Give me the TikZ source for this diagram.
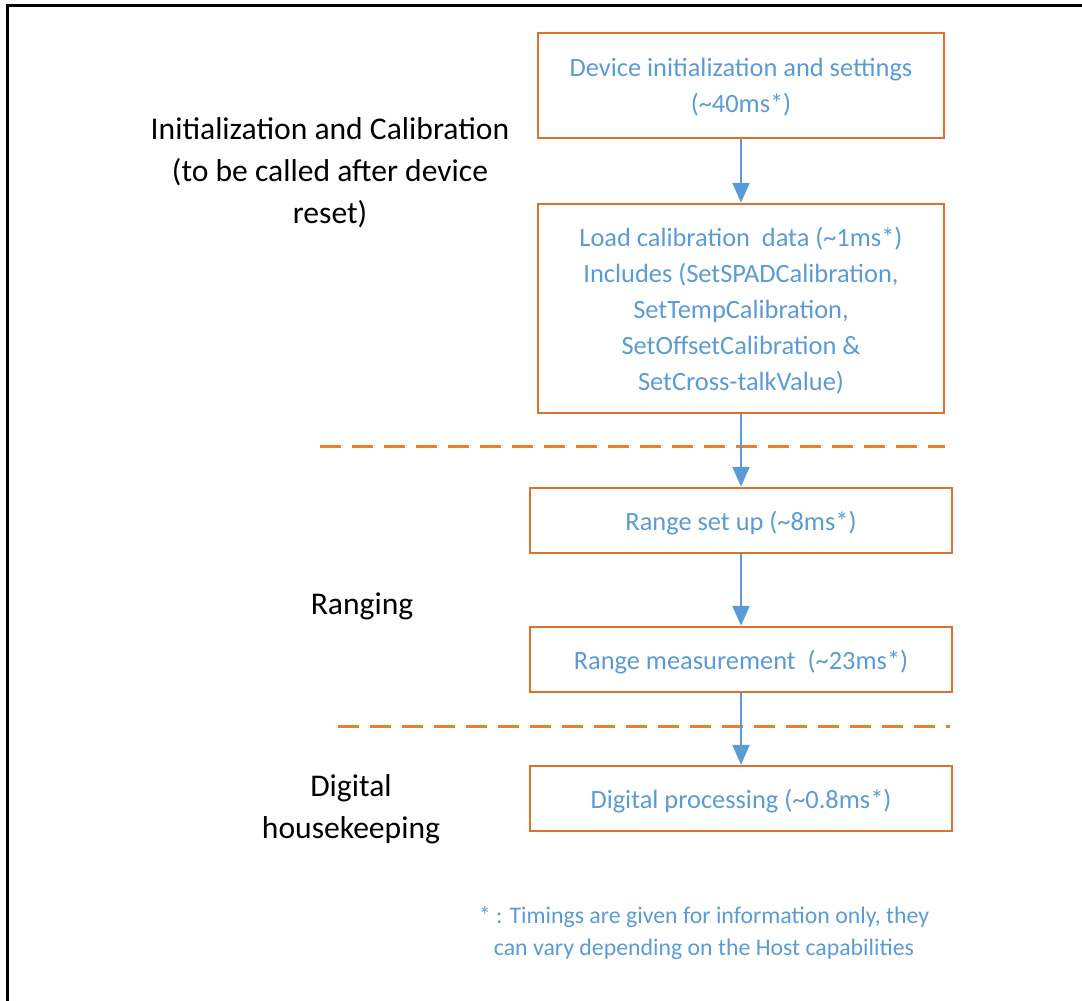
\documentclass[tikz,border=0pt]{standalone}
\usepackage{fontspec}
\setmainfont{Carlito}
\usetikzlibrary{arrows.meta}
\definecolor{boxorange}{RGB}{217,115,45}
\definecolor{dashorange}{RGB}{237,125,49}
\definecolor{txtblue}{RGB}{91,155,213}
\begin{document}
\begin{tikzpicture}[x=1pt, y=-1pt,
		stepbox/.style={draw=boxorange, line width=2.5pt, text=txtblue, align=center,
			inner sep=0pt, text depth=-3pt, font=\fontsize{26.4}{36}\selectfont},
		sidelabel/.style={align=center, font=\fontsize{31.6}{42}\selectfont},
		flow/.style={draw=txtblue, line width=2.5pt, -{Triangle[width=17pt,length=20pt]}}]
		
		% Fix the size of the picture
		\useasboundingbox (0,0) rectangle (1082,1001);
		
		% Draw the outer frame
		\draw[line width=3pt] (1090,5) -- (7,5) -- (7,1010);
		
		% Draw the steps
		\node[stepbox, minimum width=406pt, minimum height=105pt] (init) at (741,85.5)
		{Device initialization and settings\\(\textasciitilde 40ms*)};
		\node[stepbox, minimum width=406pt, minimum height=209pt] (calib) at (741,308.5)
		{Load calibration\ \ data (\textasciitilde 1ms*)\\Includes (SetSPADCalibration,\\SetTempCalibration,\\SetOffsetCalibration \&\\SetCross-talkValue)};
		\node[stepbox, minimum width=422pt, minimum height=65pt] (setup) at (741,520.5)
		{Range set up (\textasciitilde 8ms*)};
		\node[stepbox, minimum width=422pt, minimum height=65pt] (meas) at (741,659.5)
		{Range measurement\ \ (\textasciitilde 23ms*)};
		\node[stepbox, minimum width=422pt, minimum height=65pt] (proc) at (741,798.5)
		{Digital processing (\textasciitilde 0.8ms*)};
		
		% Draw the dashed separators
		\foreach \ya/\xa/\xb in {446/320/945, 726/338/950}
		\draw[dashorange, line width=3pt, dash pattern=on 21pt off 11pt] (\xa,\ya) -- (\xb,\ya);
		
		% Draw the arrows
		\draw[flow] (init) -- (calib);
		\draw[flow] (calib) -- (setup);
		\draw[flow] (setup) -- (meas);
		\draw[flow] (meas) -- (proc);
		
		% Add the phase labels
		\node[sidelabel] (phaseinit) at (330,173) {Initialization and Calibration\\(to be called after device\\reset)};
		\node[sidelabel] (phaserange) at (362,606) {Ranging};
		\node[sidelabel] (phasedigital) at (351,809) {Digital\\housekeeping};
		
		% Add the footnote
		\node[align=center, text=txtblue, font=\fontsize{23.8}{32}\selectfont] (note) at (704,933)
		{* : Timings are given for information only, they\\can vary depending on the Host capabilities};
		
	\end{tikzpicture}
\end{document}
